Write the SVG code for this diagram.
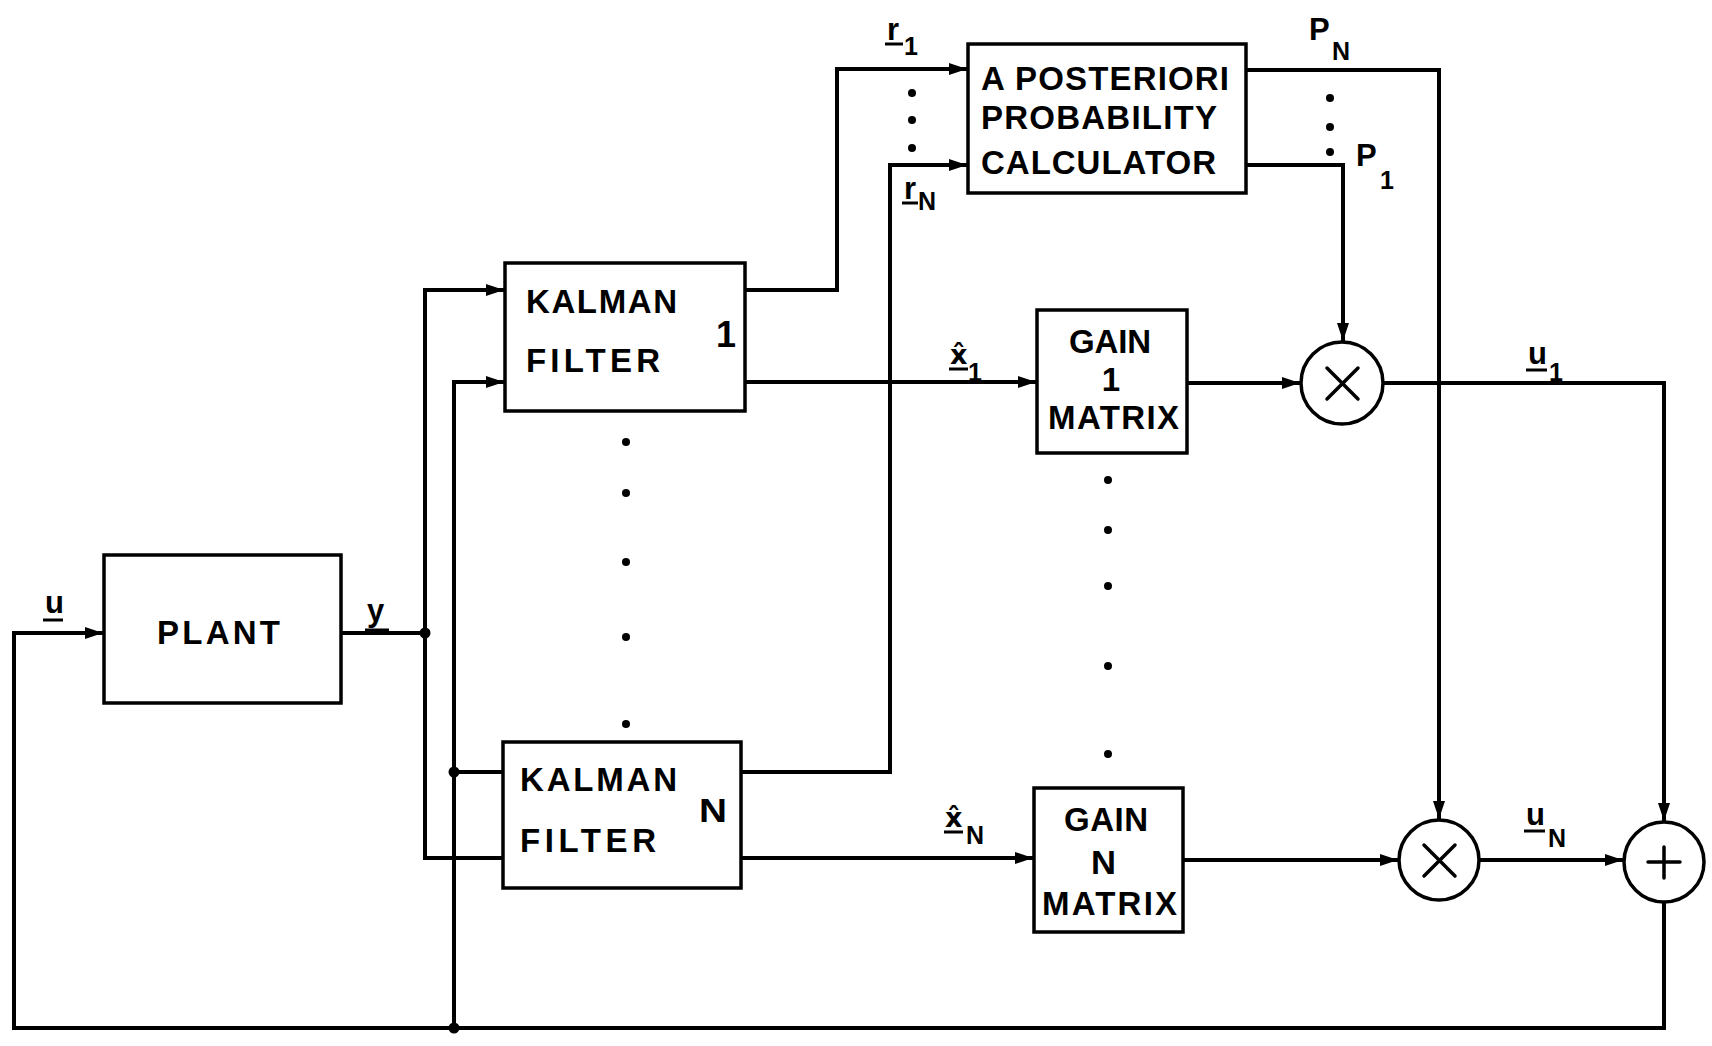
<svg xmlns="http://www.w3.org/2000/svg" width="1712" height="1046" viewBox="0 0 1712 1046">
<style>
  .box { fill: #fff; stroke: #000; stroke-width: 3.5; }
  .circ { fill: #fff; stroke: #000; stroke-width: 3.5; }
  .wire { fill: none; stroke: #000; stroke-width: 4; stroke-linejoin: miter; }
  .sym { fill: none; stroke: #000; stroke-width: 3.5; stroke-linecap: round; }
  .ul { stroke: #000; stroke-width: 3; }
  .t { font-family: "Liberation Sans", Arial, sans-serif; font-weight: bold; font-size: 33px; fill: #000; }
  .lbl { font-family: "Liberation Sans", Arial, sans-serif; font-weight: bold; font-size: 31px; fill: #000; }
  .sub { font-family: "Liberation Sans", Arial, sans-serif; font-weight: bold; font-size: 25px; fill: #000; }
  .hat { font-family: "DejaVu Sans", sans-serif; font-weight: bold; font-size: 27px; fill: #000; }
  .dot { fill: #000; }
</style>
<defs>
  <marker id="arr" viewBox="0 0 18 12" refX="18" refY="6" markerWidth="18" markerHeight="12" markerUnits="userSpaceOnUse" orient="auto">
    <path d="M0,0 L18,6 L0,12 z" fill="#000"/>
  </marker>
</defs>

<g id="connectors">
  <path class="wire" d="M1664,902 V1028 H14 V633 H103" marker-end="url(#arr)"/>
  <path class="wire" d="M341,633 H425"/>
  <path class="wire" d="M503,858 H425 V290 H504" marker-end="url(#arr)"/>
  <path class="wire" d="M454,1028 V382 H504" marker-end="url(#arr)"/>
  <path class="wire" d="M454,772 H503"/>
  <path class="wire" d="M745,290 H837 V69 H967" marker-end="url(#arr)"/>
  <path class="wire" d="M741,772 H890 V165 H967" marker-end="url(#arr)"/>
  <path class="wire" d="M745,382 H1036" marker-end="url(#arr)"/>
  <path class="wire" d="M741,858 H1033" marker-end="url(#arr)"/>
  <path class="wire" d="M1187,383 H1300" marker-end="url(#arr)"/>
  <path class="wire" d="M1183,860 H1398" marker-end="url(#arr)"/>
  <path class="wire" d="M1246,165 H1343 V341" marker-end="url(#arr)"/>
  <path class="wire" d="M1246,70 H1439 V819" marker-end="url(#arr)"/>
  <path class="wire" d="M1383,383 H1664 V821" marker-end="url(#arr)"/>
  <path class="wire" d="M1479,860 H1623" marker-end="url(#arr)"/>
  <circle class="dot" cx="425" cy="633" r="5.5"/>
  <circle class="dot" cx="454" cy="772" r="5.5"/>
  <circle class="dot" cx="454" cy="1028" r="5.5"/>
</g>

<g id="plant">
  <rect class="box" x="104" y="555" width="237" height="148"/>
  <text class="t" x="157" y="644" textLength="123" lengthAdjust="spacing">PLANT</text>
</g>

<g id="kalman1">
  <rect class="box" x="505" y="263" width="240" height="148"/>
  <text class="t" x="526" y="313" textLength="151" lengthAdjust="spacing">KALMAN</text>
  <text class="t" x="526" y="372" textLength="134" lengthAdjust="spacing">FILTER</text>
  <text class="t" x="716" y="347" style="font-size:36px">1</text>
</g>

<g id="kalmanN">
  <rect class="box" x="503" y="742" width="238" height="146"/>
  <text class="t" x="520" y="791" textLength="157" lengthAdjust="spacing">KALMAN</text>
  <text class="t" x="520" y="852" textLength="136" lengthAdjust="spacing">FILTER</text>
  <text class="t" x="699" y="822" textLength="28" lengthAdjust="spacingAndGlyphs">N</text>
</g>

<g id="app">
  <rect class="box" x="968" y="44" width="278" height="149"/>
  <text class="t" x="981" y="90" textLength="248" lengthAdjust="spacing">A POSTERIORI</text>
  <text class="t" x="981" y="129" textLength="236" lengthAdjust="spacing">PROBABILITY</text>
  <text class="t" x="981" y="174" textLength="235" lengthAdjust="spacing">CALCULATOR</text>
</g>

<g id="gain1">
  <rect class="box" x="1037" y="310" width="150" height="143"/>
  <text class="t" x="1069" y="353" textLength="82" lengthAdjust="spacing">GAIN</text>
  <text class="t" x="1111" y="391" text-anchor="middle">1</text>
  <text class="t" x="1048" y="429" textLength="131" lengthAdjust="spacing">MATRIX</text>
</g>

<g id="gainN">
  <rect class="box" x="1034" y="788" width="149" height="144"/>
  <text class="t" x="1064" y="831" textLength="84" lengthAdjust="spacing">GAIN</text>
  <text class="t" x="1091" y="874" textLength="25" lengthAdjust="spacingAndGlyphs">N</text>
  <text class="t" x="1042" y="915" textLength="135" lengthAdjust="spacing">MATRIX</text>
</g>

<g id="mult1">
  <circle class="circ" cx="1342" cy="383" r="41"/>
  <path class="sym" d="M1327,368 L1358,399 M1358,368 L1327,399"/>
</g>

<g id="multN">
  <circle class="circ" cx="1439" cy="860" r="40"/>
  <path class="sym" d="M1424,845 L1455,876 M1455,845 L1424,876"/>
</g>

<g id="sum">
  <circle class="circ" cx="1664" cy="862" r="40"/>
  <path class="sym" d="M1648,862 H1680 M1664,847 V878"/>
</g>

<g id="dots">
  <circle class="dot" cx="626" cy="442" r="4"/>
  <circle class="dot" cx="626" cy="493" r="4"/>
  <circle class="dot" cx="626" cy="562" r="4"/>
  <circle class="dot" cx="626" cy="637" r="4"/>
  <circle class="dot" cx="626" cy="724" r="4"/>
  <circle class="dot" cx="1108" cy="480" r="4"/>
  <circle class="dot" cx="1108" cy="530" r="4"/>
  <circle class="dot" cx="1108" cy="586" r="4"/>
  <circle class="dot" cx="1108" cy="666" r="4"/>
  <circle class="dot" cx="1108" cy="754" r="4"/>
  <circle class="dot" cx="912" cy="93" r="4"/>
  <circle class="dot" cx="912" cy="120" r="4"/>
  <circle class="dot" cx="912" cy="148" r="4"/>
  <circle class="dot" cx="1330" cy="98" r="4"/>
  <circle class="dot" cx="1330" cy="127" r="4"/>
  <circle class="dot" cx="1330" cy="152" r="4"/>
</g>

<g id="labels">
  <text class="lbl" x="45" y="613">u</text>
  <line class="ul" x1="43" y1="620" x2="63" y2="620"/>
  <text class="lbl" x="367" y="621">y</text>
  <line class="ul" x1="365" y1="630" x2="389" y2="630"/>

  <text class="lbl" x="887" y="40">r</text>
  <line class="ul" x1="885" y1="44" x2="903" y2="44"/>
  <text class="sub" x="904" y="55">1</text>

  <text class="lbl" x="904" y="199">r</text>
  <line class="ul" x1="902" y1="203" x2="918" y2="203"/>
  <text class="sub" x="918" y="210">N</text>

  <text class="lbl" x="1309" y="40">P</text>
  <text class="sub" x="1332" y="60">N</text>
  <text class="lbl" x="1356" y="166">P</text>
  <text class="sub" x="1380" y="189">1</text>

  <text class="hat" x="950" y="364">x&#x302;</text>
  <line class="ul" x1="949" y1="369" x2="968" y2="369"/>
  <text class="sub" x="968" y="381">1</text>

  <text class="hat" x="945" y="827">x&#x302;</text>
  <line class="ul" x1="944" y1="832" x2="963" y2="832"/>
  <text class="sub" x="966" y="844">N</text>

  <text class="lbl" x="1528" y="364">u</text>
  <line class="ul" x1="1526" y1="370" x2="1547" y2="370"/>
  <text class="sub" x="1549" y="381">1</text>

  <text class="lbl" x="1526" y="825">u</text>
  <line class="ul" x1="1524" y1="831" x2="1545" y2="831"/>
  <text class="sub" x="1548" y="847">N</text>
</g>
</svg>
